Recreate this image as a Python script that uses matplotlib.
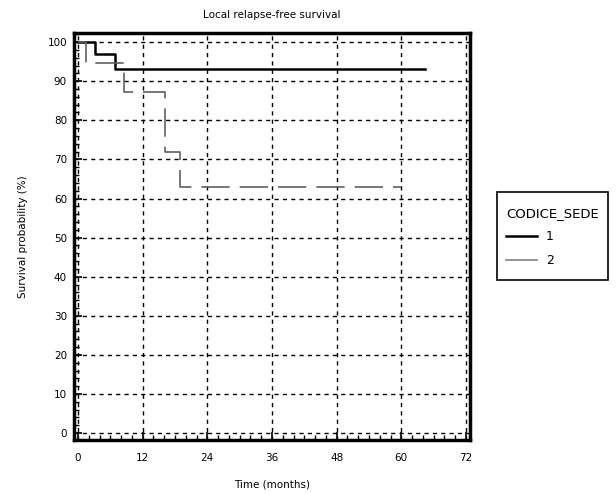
import matplotlib
matplotlib.use("Agg")
import matplotlib.pyplot as plt
from matplotlib.lines import Line2D
from matplotlib.patches import Rectangle
from matplotlib.ticker import MultipleLocator

# ====== Data ======
time_1 = [0, 3.2, 6.9, 64.4]
surv_1 = [100, 96.9, 93.1, 93.1]

time_2 = [0, 1.4, 8.5, 16.1, 18.9, 60.0]
surv_2 = [100, 94.7, 87.3, 71.9, 62.9, 62.9]

x_ticks = [0, 12, 24, 36, 48, 60, 72]
y_ticks = [0, 10, 20, 30, 40, 50, 60, 70, 80, 90, 100]
group_labels = ["1", "2"]

fig = plt.figure(figsize=(6.16, 4.94), dpi=100)
ax = fig.add_axes([0.120, 0.109, 0.643, 0.824])

# grid first so curves sit on top
ax.grid(True, which="major", color="black", linestyle=(0, (3, 3)), linewidth=1.0, zorder=1)

ax.plot(time_1, surv_1, drawstyle="steps-post", color="black", linewidth=1.8, zorder=3)
ax.plot(time_2, surv_2, drawstyle="steps-post", color="#606060", linewidth=1.2,
        linestyle=(0, (17, 6)), zorder=3)

ax.set_xlim(-0.75, 72.75)
ax.set_ylim(-1.8, 102.3)
ax.set_xticks(x_ticks)
ax.set_yticks(y_ticks)
ax.xaxis.set_minor_locator(MultipleLocator(2))
ax.yaxis.set_minor_locator(MultipleLocator(2))
ax.tick_params(which="major", direction="in", length=6, width=1.2, labelsize=7.5)
ax.tick_params(axis="x", which="major", pad=9)
ax.tick_params(axis="y", which="major", pad=5)
ax.tick_params(which="minor", direction="in", length=3.5, width=1.0)

for s in ax.spines.values():
    s.set_linewidth(2.5)

ax.set_title("Local relapse-free survival", fontsize=7.5, pad=11)
ax.set_xlabel("Time (months)", fontsize=7.5, labelpad=12)
ax.set_ylabel("Survival probability (%)", fontsize=7.5, labelpad=14)

# ====== Legend box drawn by hand (title overflows the frame) ======
W, H = 616.0, 494.0
fig.add_artist(Rectangle((497 / W, 1 - 280 / H), 111 / W, 88 / H, transform=fig.transFigure,
                         facecolor="white", edgecolor="black", linewidth=1.2))
fig.text(506 / W, 1 - 214 / H, "CODICE_SEDE", fontsize=9.5, va="center", ha="left")
fig.add_artist(Line2D([506 / W, 537 / W], [1 - 236 / H, 1 - 236 / H], transform=fig.transFigure,
                      color="black", linewidth=1.8))
fig.add_artist(Line2D([506 / W, 537 / W], [1 - 260 / H, 1 - 260 / H], transform=fig.transFigure,
                      color="#808080", linewidth=1.2))
fig.text(546 / W, 1 - 236 / H, group_labels[0], fontsize=9, va="center", ha="left")
fig.text(546 / W, 1 - 260 / H, group_labels[1], fontsize=9, va="center", ha="left")

fig.savefig("out.png", dpi=100)
